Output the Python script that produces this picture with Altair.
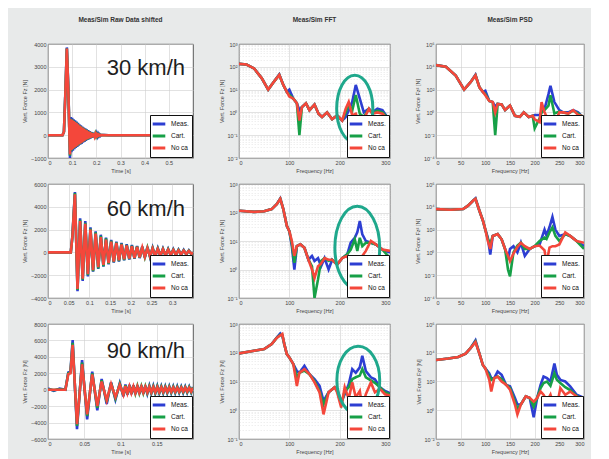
import altair as alt
import pandas as pd

SERIES = ["Meas.", "Cart.", "No ca"]
COLORS = ["#2d3ed2", "#17a047", "#f4473b"]
TEAL = "#1fa88c"
FONT = "Liberation Sans"

col_titles = ["Meas/Sim Raw Data shifted", "Meas/Sim FFT", "Meas/Sim PSD"]
speeds = ["30 km/h", "60 km/h", "90 km/h"]

# ---------------- time domain, 30 km/h ----------------
t30 = [0, 0.060, 0.066, 0.072, 0.078, 0.084, 0.088,
       0.091, 0.094, 0.097, 0.100, 0.103, 0.106, 0.109, 0.112, 0.115, 0.118,
       0.121, 0.124, 0.127, 0.130, 0.133, 0.136, 0.139, 0.142, 0.145, 0.148,
       0.151, 0.154, 0.157, 0.160, 0.163, 0.166, 0.169, 0.172, 0.175, 0.178,
       0.181, 0.184, 0.187, 0.190, 0.193, 0.196, 0.199, 0.202, 0.205, 0.208,
       0.211, 0.214, 0.217, 0.220, 0.250, 0.600]
meas30 = [0, 0, 150, 1900, 3850, 2100, 350,
          -1000, 800, -750, 760, -680, 700, -620, 650, -560, 600,
          -520, 540, -460, 480, -420, 430, -380, 380, -330, 340,
          -290, 300, -250, 260, -210, 220, -180, 180, -150, 150,
          -120, 120, -100, 100, -80, 80, -60, 60, -45, 45,
          -30, 30, -20, 20, 0, 0]
cart30 = [0, 0, 150, 1850, 3800, 2050, 330,
          -900, 720, -680, 700, -620, 640, -570, 600, -520, 550,
          -480, 500, -430, 440, -390, 400, -350, 350, -300, 310,
          -260, 270, -220, 230, -190, 190, -160, 160, -130, 130,
          -100, 100, -80, 80, -60, 60, -45, 45, -30, 30,
          -20, 20, -10, 10, 0, 0]
noca30 = [0, 0, 150, 1850, 3800, 2000, 300,
          -850, 700, -650, 680, -600, 620, -550, 580, -500, 530,
          -460, 480, -410, 420, -370, 380, -330, 330, -280, 290,
          -240, 250, -200, 210, -170, 170, -140, 140, -110, 110,
          -90, 90, -70, 70, -50, 50, -35, 35, -25, 25,
          -15, 15, -8, 8, 0, 0]

# ---------------- time domain, 60 km/h ----------------
t60 = [0, 0.055, 0.059, 0.065,
       0.07125, 0.0775, 0.08375, 0.09, 0.09625, 0.1025, 0.10875, 0.115, 0.12125,
       0.1275, 0.13375, 0.14, 0.14625, 0.1525, 0.15875, 0.165, 0.17125, 0.1775,
       0.18375, 0.19, 0.19625, 0.2025, 0.20875, 0.215, 0.22125, 0.2275, 0.23375,
       0.24, 0.24625, 0.2525, 0.25875, 0.265, 0.27125, 0.2775, 0.28375, 0.29,
       0.29625, 0.3025, 0.30875, 0.315, 0.32125, 0.3275, 0.33375, 0.34, 0.34625,
       0.35]
meas60 = [0, 0, 1500, 5300,
          -3400, 3000, -2500, 2750, -2100, 2200, -1700, 1850, -1450,
          1550, -1250, 1300, -1050, 1100, -900, 950, -800, 820,
          -700, 720, -620, 640, -560, 570, -500, 510, -450,
          460, -400, 410, -360, 370, -330, 330, -300, 300,
          -270, 270, -240, 240, -220, 210, -190, 180, -160,
          0]
cart60 = [0, 0, 1400, 5200,
          -3300, 2850, -2400, 2600, -2000, 2100, -1650, 1750, -1400,
          1450, -1200, 1220, -1000, 1020, -860, 880, -760, 760,
          -660, 660, -580, 590, -520, 520, -460, 470, -420,
          420, -370, 370, -330, 330, -300, 300, -270, 270,
          -240, 240, -210, 210, -190, 180, -160, 150, -140,
          0]
noca60 = [0, 0, 1400, 5100,
          -3200, 2750, -2300, 2500, -1900, 2000, -1550, 1650, -1300,
          1350, -1100, 1130, -930, 950, -800, 820, -700, 700,
          -610, 610, -540, 540, -480, 480, -430, 430, -380,
          380, -340, 340, -300, 300, -270, 270, -240, 240,
          -210, 210, -190, 180, -160, 150, -140, 130, -120,
          0]

# ---------------- time domain, 90 km/h ----------------
t90 = [0, 0.008, 0.016, 0.024, 0.028, 0.031, 0.034, 0.040, 0.047, 0.054,
       0.061, 0.068, 0.074, 0.081, 0.087, 0.093, 0.099, 0.104,
       0.1068, 0.1095, 0.1123, 0.115, 0.1178, 0.1205, 0.1233, 0.126, 0.1288,
       0.1315, 0.1343, 0.137, 0.1398, 0.1425, 0.1453, 0.148, 0.1508, 0.1535,
       0.1563, 0.159, 0.1618, 0.1645, 0.1673, 0.17, 0.1728, 0.1755, 0.1783,
       0.181, 0.1838, 0.1865, 0.1893, 0.192, 0.1948, 0.1975, 0.2]
meas90 = [150, -150, 150, 0, 2100, 2200, 6050, -4800, 3600, -3600,
          2200, -2500, 1300, -1750, 900, -1200, 800, -800,
          650, -600, 600, -550, 550, -520, 520, -500, 500,
          -480, 480, -460, 460, -450, 450, -440, 440, -420,
          420, -400, 400, -400, 400, -380, 380, -380, 380,
          -360, 360, -360, 360, -340, 340, -340, 340]
cart90 = [50, -50, 50, 0, 2000, 2100, 5700, -4400, 3300, -3200,
          2000, -2200, 1150, -1500, 800, -1050, 700, -700,
          550, -520, 520, -480, 480, -450, 450, -430, 430,
          -410, 410, -400, 400, -390, 390, -380, 380, -360,
          360, -350, 350, -340, 340, -330, 330, -320, 320,
          -310, 310, -300, 300, -300, 300, -290, 290]
noca90 = [0, 0, 0, 0, 1900, 2000, 5450, -4200, 3100, -3000,
          1850, -2000, 1000, -1300, 700, -900, 600, -600,
          450, -420, 420, -400, 400, -380, 380, -360, 360,
          -340, 340, -330, 330, -320, 320, -300, 300, -290,
          290, -280, 280, -270, 270, -260, 260, -250, 250,
          -250, 250, -240, 240, -240, 240, -230, 230]

# ---------------- FFT ----------------
fft_f1 = [0, 15, 30, 45, 58, 70, 80, 88, 95, 100, 108, 115, 120, 125, 133, 140, 150, 158,
          165, 175, 185, 195, 205, 212, 218, 225, 232, 240, 248, 258, 265, 275, 285, 292, 300]
fft_meas1 = [135, 126, 85, 32, 10, 23, 46, 16, 8, 10, 4, 2.5, 1.25, 1.7, 2.5, 1.25, 2.2, 0.87,
             0.63, 1.0, 0.5, 0.74, 0.44, 0.63, 1.2, 2.9, 16, 4, 1.0, 1.45, 1.0, 1.45, 1.25, 0.74, 0.13]
fft_cart1 = [135, 126, 85, 32, 10, 23, 44, 16, 8, 6, 4, 2.5, 0.1, 1.7, 2.5, 1.25, 2.2, 0.87,
             0.63, 1.0, 0.5, 0.74, 0.44, 1.0, 2.2, 1.2, 5.8, 0.87, 0.63, 1.45, 0.9, 1.2, 1.0, 0.7, 0.3]
fft_noca1 = [135, 126, 85, 32, 10, 23, 44, 16, 8, 5, 4, 2.5, 0.44, 1.7, 2.5, 1.25, 2.2, 0.87,
             0.63, 1.0, 0.5, 0.74, 0.44, 1.45, 2.9, 0.74, 0.87, 0.32, 0.5, 1.45, 0.87, 1.0, 0.87, 0.6, 0.37]

fft_f2 = [0, 30, 50, 65, 75, 82, 88, 95, 100, 105, 110, 115, 122, 130, 138, 145, 150, 157,
          163, 170, 178, 185, 195, 205, 215, 222, 230, 235, 240, 245, 252, 262, 272, 285, 300]
fft_meas2 = [115, 105, 110, 132, 195, 310, 132, 34, 22, 6.6, 1.0, 6.6, 7.6, 5.8, 2.2, 3.0, 2.0, 2.5,
             1.3, 2.5, 1.0, 2.2, 1.5, 2.5, 3.4, 8.7, 13, 20, 50, 17, 10, 8.7, 7.6, 5, 3.9]
fft_cart2 = [115, 105, 110, 132, 195, 300, 132, 34, 22, 8, 1.7, 6.6, 7.6, 5.8, 2.2, 1.3, 0.1, 0.45,
             2.0, 2.5, 2.0, 2.2, 1.5, 2.5, 3.4, 5, 11.5, 4.5, 13, 6.6, 8.7, 8.7, 7.6, 5, 2.5]
fft_noca2 = [115, 105, 110, 132, 195, 300, 132, 34, 22, 10, 3.0, 6.6, 7.6, 5.8, 2.2, 1.0, 0.5, 1.3,
             1.6, 2.5, 2.2, 2.2, 1.5, 2.5, 3.0, 1.5, 1.5, 2.5, 2.5, 3.0, 4.5, 10, 7.6, 5, 4.5]

fft_f3 = [0, 30, 50, 65, 75, 82, 86, 90, 95, 100, 108, 115, 120, 130, 140, 150, 160, 168,
          178, 190, 195, 203, 210, 218, 225, 232, 240, 245, 252, 262, 270, 280, 290, 300]
fft_meas3 = [95, 117, 135, 200, 340, 470, 400, 200, 90, 69, 40, 23, 20, 35, 18, 12, 7, 2.1,
             4.2, 6.3, 5.5, 1.9, 3.6, 8, 27, 20, 31, 79, 23, 14, 12, 6.3, 4.7, 3.9]
fft_cart3 = [95, 117, 135, 200, 330, 420, 420, 200, 90, 69, 40, 14, 20, 24, 18, 10.5, 4.7, 1.6,
             4.2, 6.3, 4.8, 1.6, 4.5, 6.3, 12, 14, 16, 27, 14, 11, 9, 6.3, 4.2, 3.6]
fft_noca3 = [95, 117, 135, 200, 330, 400, 450, 200, 90, 69, 40, 7, 20, 27, 18, 9.3, 4.2, 0.72,
             4.2, 6.3, 4.2, 1.25, 6.3, 2.5, 9.3, 2.8, 4.7, 1.25, 3.6, 9.3, 4.2, 5.5, 3.6, 3.2]

# ---------------- PSD ----------------
psd_f1 = [0, 20, 40, 57, 70, 80, 88, 95, 100, 108, 115, 120, 125, 133, 140, 150, 160, 170,
          178, 188, 196, 200, 210, 214, 220, 228, 232, 240, 250, 258, 268, 278, 288, 295, 300]
psd_meas1 = [1.4e4, 1.0e4, 1.7e3, 100, 450, 2000, 160, 63, 80, 10, 8, 3.2, 5.6, 5, 1.6, 4, 0.5, 0.4,
             1.0, 0.4, 0.5, 0.6, 0.6, 1.0, 2, 40, 220, 8, 1.6, 1.0, 1.0, 1.6, 1.0, 0.5, 0.02]
psd_cart1 = [1.4e4, 1.0e4, 1.7e3, 100, 450, 1800, 160, 63, 40, 10, 8, 0.01, 5.6, 5, 1.6, 4, 0.5, 0.4,
             1.0, 0.4, 0.5, 0.04, 0.3, 1.0, 1.6, 4, 32, 0.8, 1.2, 1.0, 0.8, 1.4, 0.8, 0.5, 0.1]
psd_noca1 = [1.4e4, 1.0e4, 1.7e3, 100, 450, 1800, 160, 63, 32, 10, 8, 1.0, 5.6, 5, 1.6, 4, 0.5, 0.4,
             1.0, 0.4, 0.5, 0.25, 0.14, 8, 1.0, 0.2, 0.14, 0.1, 1.0, 1.0, 0.8, 1.6, 0.6, 0.5, 0.14]

psd_f2 = [0, 30, 55, 65, 75, 80, 88, 95, 100, 105, 110, 115, 125, 133, 140, 146, 150, 157,
          165, 172, 180, 190, 200, 210, 220, 224, 230, 236, 242, 250, 262, 272, 285, 300]
psd_meas2 = [6.3e3, 5.5e3, 6.3e3, 1.26e4, 3.4e4, 5.5e4, 4.5e3, 630, 100, 20, 0.63, 28, 40, 14, 2, 0.25, 2, 3.5,
             1.0, 7, 0.5, 2, 3.5, 5, 100, 30, 160, 1300, 100, 28, 40, 28, 10, 3.5]
psd_cart2 = [6.3e3, 5.5e3, 6.3e3, 1.26e4, 3.4e4, 5.0e4, 4.5e3, 630, 100, 15, 6, 28, 40, 14, 2, 0.03, 0.008, 1.0,
             4, 7, 2, 2, 3.5, 10, 20, 15, 56, 160, 28, 10, 40, 28, 10, 2]
psd_noca2 = [6.3e3, 5.5e3, 6.3e3, 1.26e4, 3.4e4, 5.0e4, 4.5e3, 630, 100, 10, 2, 28, 40, 14, 2, 0.5, 0.17, 0.8,
             3, 7, 3.5, 2, 3.5, 4, 1.5, 0.1, 2.6, 3.5, 3.5, 5, 56, 28, 10, 7]

psd_f3 = [0, 25, 45, 60, 70, 80, 88, 95, 100, 108, 112, 118, 125, 133, 142, 150, 160, 165,
          172, 182, 190, 198, 205, 212, 218, 225, 232, 240, 245, 252, 262, 272, 285, 300]
psd_meas3 = [3.1e3, 4.0e3, 5.1e3, 8.7e3, 2.1e4, 7.2e4, 8.7e3, 1.4e3, 810, 370, 170, 170, 490, 290, 59, 46, 7.2, 2.5,
             2.5, 9.3, 7.2, 0.32, 7.2, 59, 220, 170, 100, 1800, 290, 130, 100, 46, 12, 7.2]
psd_cart3 = [3.1e3, 4.0e3, 5.1e3, 8.7e3, 2.1e4, 6.0e4, 8.7e3, 1.4e3, 810, 250, 130, 170, 220, 150, 59, 35, 4, 1.2,
             2.5, 9.3, 7.2, 1.8, 7.2, 35, 78, 100, 50, 370, 130, 78, 40, 25, 10, 5]
psd_noca3 = [3.1e3, 4.0e3, 5.1e3, 8.7e3, 2.1e4, 5.5e4, 8.7e3, 1.4e3, 810, 130, 20, 170, 220, 100, 59, 27, 2.5, 0.51,
             2.5, 9.3, 7.2, 3.9, 7.2, 20, 12, 4.3, 12, 1.5, 1.9, 35, 12, 20, 9.3, 1.9]

# highlighted region (ellipse centre) in the FFT panels
ellipse_hz = [230, 235, 237]
ellipse_val = [1.45, 5.8, 11]

# ---------------- helpers ----------------
SUP = {"-": "\u207b", "0": "\u2070", "1": "\u00b9", "2": "\u00b2", "3": "\u00b3",
       "4": "\u2074", "5": "\u2075", "6": "\u2076", "7": "\u2077", "8": "\u2078", "9": "\u2079"}
EXP = "round(log(datum.value)/LN10)"
MINOR_TEST = "abs(log(datum.value)/LN10 - round(log(datum.value)/LN10)) > 0.01"


def pow_label(e):
    return "10" + "".join(SUP[c] for c in str(e))


def log_label_expr(lo, hi):
    s = "''"
    for e in range(lo, hi + 1):
        s = f"{EXP} == {e} ? '{pow_label(e)}' : ({s})"
    return f"{MINOR_TEST} ? '' : ({s})"


def log_axis(lo, hi, step, title, minor):
    vals = []
    if minor:
        for e in range(lo, hi):
            for m in range(1, 10):
                vals.append(m * 10.0 ** e)
        vals.append(10.0 ** hi)
    else:
        vals = [10.0 ** e for e in range(lo, hi + 1, step)]
    return alt.Axis(values=vals, labelExpr=log_label_expr(lo, hi), title=title,
                    gridOpacity={"condition": {"test": MINOR_TEST, "value": 0.55}, "value": 1},
                    gridDash={"condition": {"test": MINOR_TEST, "value": [1.5, 1.5]}, "value": []})


def panel(xs, ys_list, xdom, xticks, xtitle, yscale, yaxis, w, h,
          speed=None, ellipse=None, title=None):
    rows = []
    for name, ys in zip(SERIES, ys_list):
        rows += [{"x": a, "y": b, "s": name} for a, b in zip(xs, ys)]
    df = pd.DataFrame(rows)
    base = alt.Chart(df).encode(
        x=alt.X("x:Q", scale=alt.Scale(domain=xdom, nice=False, zero=False),
                axis=alt.Axis(values=xticks, format="~r", title=xtitle)),
        y=alt.Y("y:Q", scale=yscale, axis=yaxis),
        color=alt.Color("s:N", scale=alt.Scale(domain=SERIES, range=COLORS),
                        legend=alt.Legend(title=None)),
    )
    layers = [base.transform_filter(alt.datum.s == name).mark_line(strokeWidth=2.6, clip=True)
              for name in SERIES]
    if ellipse is not None:
        hz, val, eh, ratio = ellipse
        path = f"M0,-1A{ratio},1 0 1,1 0,1A{ratio},1 0 1,1 0,-1Z"
        layers.append(
            alt.Chart(pd.DataFrame({"x": [hz], "y": [val]}))
            .mark_point(shape=path, size=eh * eh, filled=False, color=TEAL,
                        strokeWidth=3, opacity=1)
            .encode(x="x:Q", y="y:Q")
        )
    if speed is not None:
        label, px, py = speed
        layers.append(
            alt.Chart(pd.DataFrame({"label": [label]}))
            .mark_text(align="right", baseline="alphabetic", font=FONT, fontSize=22, color="#1e1e1e")
            .encode(text="label:N", x=alt.value(px), y=alt.value(py))
        )
    ch = alt.layer(*layers).properties(width=w, height=h)
    if title is not None:
        ch = ch.properties(title=title)
    return ch


W = [145, 151, 148]
H = [114, 114, 115]
YT = "Vert. Force Fz [N]"
YP = "Vert. Force Fz\u00b2 [N]"
FT = "Frequency [Hz]"
fticks = [0, 50, 100, 150, 200, 250, 300]


def lin(dom):
    return alt.Scale(domain=dom, nice=False, zero=False)


def logs(lo, hi):
    return alt.Scale(type="log", domain=[10.0 ** lo, 10.0 ** hi], nice=False)


# row 1
p11 = panel(t30, [meas30, cart30, noca30], [0, 0.6], [0, 0.1, 0.2, 0.3, 0.4, 0.5], "Time [s]",
            lin([-1000, 4000]), alt.Axis(values=[-1000, 0, 1000, 2000, 3000, 4000], format="d", title=YT),
            W[0], H[0], speed=(speeds[0], 137, 31), title=col_titles[0])
p12 = panel(fft_f1, [fft_meas1, fft_cart1, fft_noca1], [0, 300], fticks, FT,
            logs(-2, 3), log_axis(-2, 3, 1, YT, True), W[1], H[0],
            ellipse=(ellipse_hz[0], ellipse_val[0], 67, 0.54), title=col_titles[1])
p13 = panel(psd_f1, [psd_meas1, psd_cart1, psd_noca1], [0, 300], fticks, FT,
            logs(-4, 6), log_axis(-4, 6, 2, YP, False), W[2], H[0], title=col_titles[2])

# row 2
p21 = panel(t60, [meas60, cart60, noca60], [0, 0.35], [0, 0.05, 0.1, 0.15, 0.2, 0.25, 0.3], "Time [s]",
            lin([-4000, 6000]), alt.Axis(values=[-4000, -2000, 0, 2000, 4000, 6000], format="d", title=YT),
            W[0], H[1], speed=(speeds[1], 137, 32))
p22 = panel(fft_f2, [fft_meas2, fft_cart2, fft_noca2], [0, 300], fticks, FT,
            logs(-1, 3), log_axis(-1, 3, 1, YT, True), W[1], H[1],
            ellipse=(ellipse_hz[1], ellipse_val[1], 83, 0.54))
p23 = panel(psd_f2, [psd_meas2, psd_cart2, psd_noca2], [0, 300], fticks, FT,
            logs(-4, 6), log_axis(-4, 6, 2, YP, False), W[2], H[1])

# row 3
p31 = panel(t90, [meas90, cart90, noca90], [0, 0.2], [0, 0.05, 0.1, 0.15], "Time [s]",
            lin([-6000, 8000]),
            alt.Axis(values=[-6000, -4000, -2000, 0, 2000, 4000, 6000, 8000], format="d", title=YT),
            W[0], H[2], speed=(speeds[2], 137, 34))
p32 = panel(fft_f3, [fft_meas3, fft_cart3, fft_noca3], [0, 300], fticks, FT,
            logs(-1, 3), log_axis(-1, 3, 1, YT, True), W[1], H[2],
            ellipse=(ellipse_hz[2], ellipse_val[2], 68, 0.63))
p33 = panel(psd_f3, [psd_meas3, psd_cart3, psd_noca3], [0, 300], fticks, FT,
            logs(-2, 6), log_axis(-2, 6, 2, YP, False), W[2], H[2])

chart = (
    alt.concat(p11, p12, p13, p21, p22, p23, p31, p32, p33, columns=3,
               spacing={"row": 26, "column": 46}, bounds="flush")
    .resolve_scale(color="independent")
    .resolve_legend(color="independent")
    .properties(
        background="#e8eaea",
        padding={"left": 14, "top": 8, "right": 6, "bottom": 4},
    )
    .configure_view(stroke="#333333", strokeWidth=0.8, fill="white")
    .configure_axis(labelFont=FONT, labelFontSize=5.5, labelColor="#444444",
                    titleFont=FONT, titleFontSize=5.5, titleFontWeight="normal", titleColor="#444444",
                    ticks=False, domain=False, gridColor="#cfcfcf", gridWidth=0.6,
                    labelPadding=2, titlePadding=3)
    .configure_legend(orient="bottom-right", offset=1, fillColor="white", strokeColor="#111111",
                      padding=3, labelFont=FONT, labelFontSize=6.5, labelColor="#111111",
                      symbolType="M-1.4,0L1.4,0", symbolStrokeWidth=3, symbolSize=81,
                      rowPadding=0, labelOffset=6, cornerRadius=0)
    .configure_title(font=FONT, fontSize=6.5, fontWeight="bold", color="#333333", offset=19, anchor="middle")
)

chart.save("out.html", embed_options={"renderer": "svg", "actions": False})
